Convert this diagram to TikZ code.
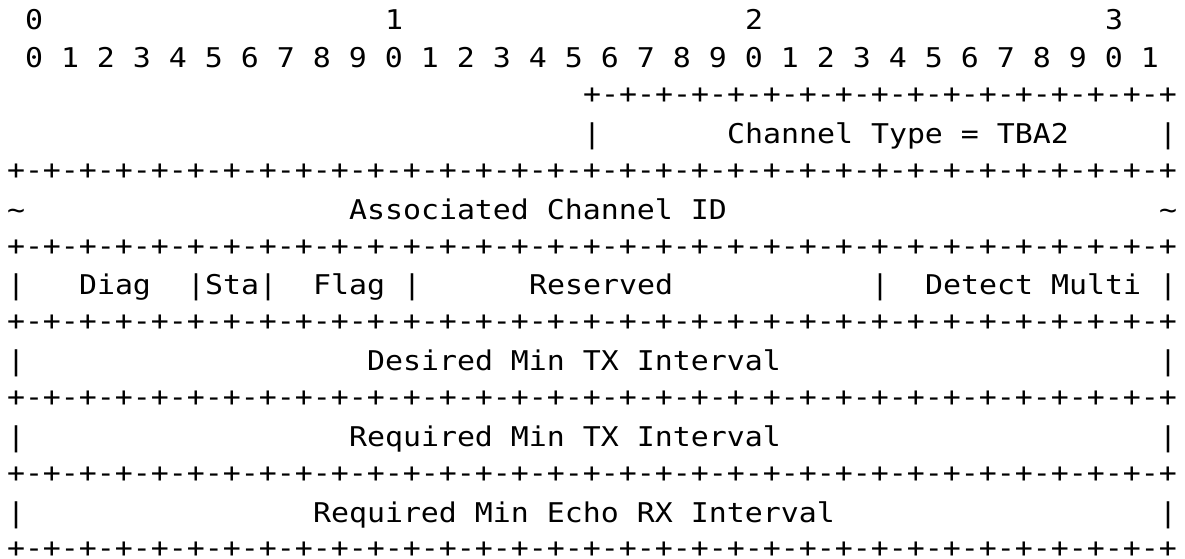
\documentclass[tikz,border=0pt]{standalone}
\usepackage{fontspec}
\usepackage{tikz}
\newfontfamily\pktfont[FakeStretch=1.1]{DejaVu Sans Mono}
\newcommand{\fullsep}{+-+-+-+-+-+-+-+-+-+-+-+-+-+-+-+-+-+-+-+-+-+-+-+-+-+-+-+-+-+-+-+-+}
\newcommand{\halfsep}{+-+-+-+-+-+-+-+-+-+-+-+-+-+-+-+-+}
\tikzset{cell/.style={anchor=base west,inner sep=0pt,outer sep=0pt,text depth=0pt,text=black,font=\pktfont\fontsize{27.18}{37.85}\selectfont},
  seprow/.style={cell,yshift=2pt}}

\begin{document}
\begin{tikzpicture}[x=18pt,y=-37.85pt]
  \useasboundingbox (-0.389,-0.7926) rectangle (65.444,13.95);
  % bit ruler
  \node[cell](tens0) at (1,0){0};
  \node[cell](tens1) at (21,0){1};
  \node[cell](tens2) at (41,0){2};
  \node[cell](tens3) at (61,0){3};
  \node[cell](bits) at (1,1){0 1 2 3 4 5 6 7 8 9 0 1 2 3 4 5 6 7 8 9 0 1 2 3 4 5 6 7 8 9 0 1};
  % channel type
  \node[seprow](sepA) at (32,2){\halfsep};
  \node[cell](typeL) at (32,3){|};
  \node[cell](chtype) at (40,3){Channel Type = TBA2};
  \node[cell](typeR) at (64,3){|};
  \node[seprow](sepB) at (0,4){\fullsep};
  % associated channel
  \node[cell](assocL) at (0,5){\textasciitilde};
  \node[cell](assoc) at (19,5){Associated Channel ID};
  \node[cell](assocR) at (64,5){\textasciitilde};
  \node[seprow](sepC) at (0,6){\fullsep};
  % flags word
  \node[cell](diagL) at (0,7){|};
  \node[cell](diag) at (4,7){Diag};
  \node[cell](sta) at (10,7){|Sta|};
  \node[cell](flag) at (17,7){Flag |};
  \node[cell](resv) at (29,7){Reserved};
  \node[cell](multL) at (48,7){|};
  \node[cell](mult) at (51,7){Detect Multi |};
  \node[seprow](sepD) at (0,8){\fullsep};
  % intervals
  \node[cell](desL) at (0,9){|};
  \node[cell](desired) at (20,9){Desired Min TX Interval};
  \node[cell](desR) at (64,9){|};
  \node[seprow](sepE) at (0,10){\fullsep};
  \node[cell](reqL) at (0,11){|};
  \node[cell](reqtx) at (19,11){Required Min TX Interval};
  \node[cell](reqR) at (64,11){|};
  \node[seprow](sepF) at (0,12){\fullsep};
  \node[cell](echoL) at (0,13){|};
  \node[cell](echo) at (17,13){Required Min Echo RX Interval};
  \node[cell](echoR) at (64,13){|};
  \node[seprow](sepG) at (0,14){\fullsep};
\end{tikzpicture}
\end{document}
